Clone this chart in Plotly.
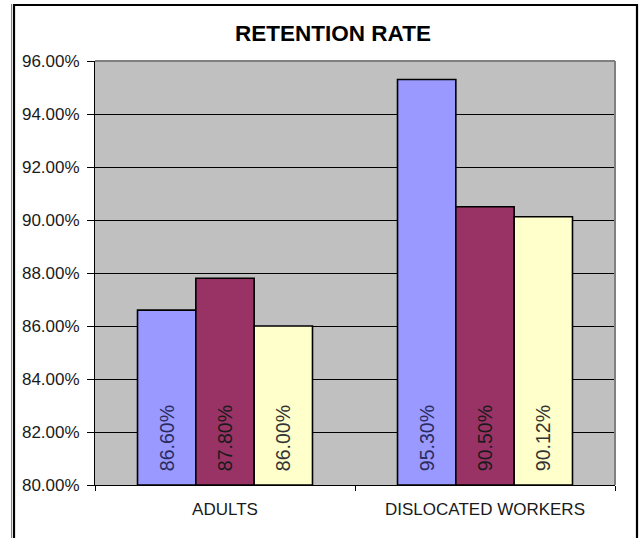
import plotly.graph_objects as go

categories = ["ADULTS", "DISLOCATED WORKERS"]
series_a = [86.60, 95.30]
series_b = [87.80, 90.50]
series_c = [86.00, 90.12]
labels_a = ["86.60%", "95.30%"]
labels_b = ["87.80%", "90.50%"]
labels_c = ["86.00%", "90.12%"]
y_ticks = [80, 82, 84, 86, 88, 90, 92, 94, 96]
axis_base = 80

colors = ["#9999FF", "#993366", "#FFFFCC"]
text_colors = ["#2B2B5E", "#1A1A1A", "#333333"]

W, H = 644, 538
L, R, T, B = 95, 615, 61, 485
pw, ph = R - L, B - T

def px(x):
    return (x - L) / pw

def py(y):
    return (B - y) / ph

fig = go.Figure()
pad = "\u00a0\u00a0"
for vals, labs, col, tcol in zip([series_a, series_b, series_c],
                                 [labels_a, labels_b, labels_c], colors, text_colors):
    fig.add_trace(go.Bar(
        x=categories, y=[v - axis_base for v in vals], base=axis_base,
        text=[pad + t for t in labs],
        textposition="inside", insidetextanchor="start", textangle=-90,
        textfont=dict(family="Arial, Liberation Sans", size=19.5, color=tcol),
        marker=dict(color=col, line=dict(color="#000000", width=1.6)),
        showlegend=False, cliponaxis=True,
    ))

fig.update_layout(
    width=W, height=H,
    margin=dict(l=L, r=W - R, t=T, b=H - B, pad=0),
    paper_bgcolor="#FFFFFF", plot_bgcolor="#C0C0C0",
    barmode="group", bargap=0.327, bargroupgap=0,
    font=dict(family="Arial, Liberation Sans", color="#1A1A1A"),
    title=dict(text="<b>RETENTION RATE</b>", x=px(333), xref="paper", xanchor="center",
               y=1 - 33.5 / H, yref="container", yanchor="middle",
               font=dict(family="Arial, Liberation Sans", size=22.5, color="#000000")),
    uniformtext=dict(mode=False),
)

fig.update_yaxes(
    range=[80, 96], tickvals=y_ticks, ticktext=[f"{v:.2f}%" for v in y_ticks],
    showgrid=True, gridcolor="#000000", gridwidth=1,
    ticks="outside", ticklen=7, tickcolor="#000000", tickwidth=1,
    ticklabelstandoff=4,
    showline=True, linecolor="#000000", linewidth=1,
    tickfont=dict(family="Arial, Liberation Sans", size=17, color="#1A1A1A"),
    zeroline=False, fixedrange=True,
)
fig.update_xaxes(
    type="category", tickson="boundaries", ticks="outside", ticklen=5,
    tickcolor="#000000", showline=True, linecolor="#000000", linewidth=1,
    showgrid=False, ticklabelstandoff=9,
    tickfont=dict(family="Arial, Liberation Sans", size=17, color="#1A1A1A"),
    fixedrange=True,
)

shapes = []
shapes.append(dict(type="line", xref="paper", yref="paper", x0=0, x1=1, y0=1, y1=1,
                   line=dict(color="#808080", width=2), layer="above"))
shapes.append(dict(type="line", xref="paper", yref="paper", x0=1, x1=1, y0=0, y1=1,
                   line=dict(color="#808080", width=2), layer="above"))
shapes.append(dict(type="rect", xref="paper", yref="paper",
                   x0=px(14), x1=px(637), y0=py(560), y1=py(5),
                   line=dict(color="#000000", width=2.2), layer="above"))
shapes.append(dict(type="line", xref="paper", yref="paper",
                   x0=px(11.5), x1=px(11.5), y0=py(560), y1=py(4),
                   line=dict(color="#808080", width=1), layer="above"))
fig.update_layout(shapes=shapes, hovermode=False)

fig.write_html("out.html", config={"displayModeBar": False},
               post_script="document.body.style.margin='0';")
